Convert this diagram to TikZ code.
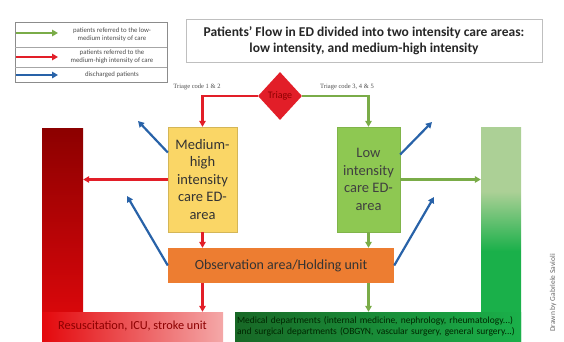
\documentclass[tikz,border=0pt]{standalone}
\usepackage{fontspec}
\setmainfont{Carlito}
\newfontfamily\codefont{Liberation Serif}
\usepackage{tikz}
\usetikzlibrary{shapes.geometric,arrows.meta}
\definecolor{flowred}{RGB}{226,30,40}
\definecolor{flowgreen}{RGB}{122,172,72}
\definecolor{flowblue}{RGB}{40,98,168}
\definecolor{boxyellow}{RGB}{250,214,102}
\definecolor{boxgreen}{RGB}{142,200,82}
\definecolor{boxorange}{RGB}{237,125,49}
\definecolor{darkred}{RGB}{140,0,0}
\definecolor{brightred}{RGB}{228,8,12}
\definecolor{pinkred}{RGB}{244,168,168}
\definecolor{palegreen}{RGB}{172,208,150}
\definecolor{brightgreen}{RGB}{26,176,74}
\definecolor{deepgreen}{RGB}{24,104,38}
\pgfdeclareverticalshading{greenfade}{100bp}{color(0bp)=(brightgreen); color(46bp)=(brightgreen);
  color(60bp)=(palegreen); color(100bp)=(palegreen)}

\begin{document}
\begin{tikzpicture}[x=1pt,y=-1pt,
  redarrow/.style={draw=flowred,line width=2.2pt,-{Triangle[length=6pt,width=6.5pt]}},
  greenarrow/.style={draw=flowgreen,line width=2.2pt,-{Triangle[length=6pt,width=6.5pt]}},
  bluearrow/.style={draw=flowblue,line width=2.2pt,-{Triangle[length=6pt,width=6.5pt]}},
  area/.style={inner sep=0pt,align=center,font=\fontsize{14.5}{17.5}\selectfont},
  legtext/.style={align=center,text=black!70,font=\fontsize{6.8}{8}\selectfont},
  codelabel/.style={text=black!70,font=\codefont\fontsize{6.5}{8}\selectfont}]
\useasboundingbox (0,0) rectangle (564,341);

\node[draw=black!45,minimum width=152pt,minimum height=60pt,inner sep=0pt] (legend) at (91,52) {};
\draw[black!35] (15,47) -- (167,47);
\draw[black!35] (15,67) -- (167,67);
\coordinate (lg1) at (16,33); \coordinate (lg1e) at (58,33);
\coordinate (lg2) at (16,57); \coordinate (lg2e) at (58,57);
\coordinate (lg3) at (16,75); \coordinate (lg3e) at (58,75);
\draw[greenarrow] (lg1) -- (lg1e);
\draw[redarrow] (lg2) -- (lg2e);
\draw[bluearrow] (lg3) -- (lg3e);
\node[legtext] (legt1) at (112,35) {patients referred to the low-\\medium intensity of care};
\node[legtext] (legt2) at (112,57) {patients referred to the\\medium-high intensity of care};
\node[legtext] (legt3) at (112,75) {discharged patients};

\node[draw=black!25,minimum width=356pt,minimum height=43pt,align=center,text=black!85,
  font=\bfseries\fontsize{13.5}{15.5}\selectfont] (title) at (364,40.5)
  {Patients' Flow in ED divided into two intensity care areas:\\low intensity, and medium-high intensity};

\node[diamond,fill=flowred,minimum width=44pt,minimum height=48pt,inner sep=0pt,
  text=darkred,font=\fontsize{10}{11}\selectfont] (triage) at (280,96) {Triage};
\node[codelabel] (code12) at (197,87) {Triage code 1 \& 2};
\node[codelabel] (code345) at (347,87) {Triage code 3, 4 \& 5};

\node[area,fill=boxyellow,draw=boxyellow!85!black,minimum width=69pt,minimum height=105pt,
  text=black!80] (mhigh) at (202.5,179.5) {Medium-\\high\\intensity\\care ED-\\area};
\node[area,fill=boxgreen,draw=boxgreen!90!black,minimum width=63pt,minimum height=105pt,
  text=black!75] (low) at (368.5,179.5) {Low\\intensity\\care ED-\\area};
\node[area,fill=boxorange,minimum width=226pt,minimum height=35pt,text=black!80,
  font=\fontsize{14}{16}\selectfont] (obs) at (281,265.5) {Observation area/Holding unit};

\node[inner sep=0pt,minimum width=41pt,minimum height=213pt,top color=darkred,
  bottom color=brightred] (redbar) at (62.5,234.5) {};
\node[inner sep=0pt,minimum width=181pt,minimum height=29pt,left color=brightred,
  right color=pinkred,text=darkred,font=\fontsize{12.3}{14}\selectfont] (redbase) at (132.5,326.5)
  {Resuscitation, ICU, stroke unit};
\node[inner sep=0pt,minimum width=40pt,minimum height=214pt,shading=greenfade] (greenbar) at (501,234) {};
\node[inner sep=0pt,minimum width=286pt,minimum height=29pt,left color=deepgreen,
  right color=brightgreen,align=left,text width=282pt,text=black!85!green,
  font=\fontsize{9.5}{10.5}\selectfont] (greenbase) at (378,326.5)
  {Medical departments (internal medicine, nephrology, rheumatology...)\\
   and surgical departments (OBGYN, vascular surgery, general surgery...)};

\node[rotate=90,text=black!60,font=\fontsize{7.5}{8}\selectfont] (credit) at (553,293) {Drawn by Gabriele Savioli};

\draw[redarrow] (triage.west) -| (mhigh.north);
\draw[greenarrow] (triage.east) -| (low.north);
\draw[redarrow] (mhigh.west) -- (mhigh.west -| redbar.east);
\draw[redarrow] (mhigh.south) -- (mhigh.south |- obs.north);
\draw[redarrow] (mhigh.south |- obs.south) -- (mhigh.south |- redbase.north);
\draw[greenarrow] (low.east) -- (low.east -| greenbar.west);
\draw[greenarrow] (low.south) -- (low.south |- obs.north);
\draw[greenarrow] (low.south |- obs.south) -- (low.south |- greenbase.north);

\coordinate (home1) at (138,121);
\coordinate (home2) at (127,196);
\coordinate (home3) at (432,122);
\coordinate (home4) at (434,197);
\draw[bluearrow] ([yshift=27pt]mhigh.west) -- (home1);
\draw[bluearrow] (obs.west) -- (home2);
\draw[bluearrow] ([yshift=25pt]low.east) -- (home3);
\draw[bluearrow] (obs.east) -- (home4);

\end{tikzpicture}
\end{document}
